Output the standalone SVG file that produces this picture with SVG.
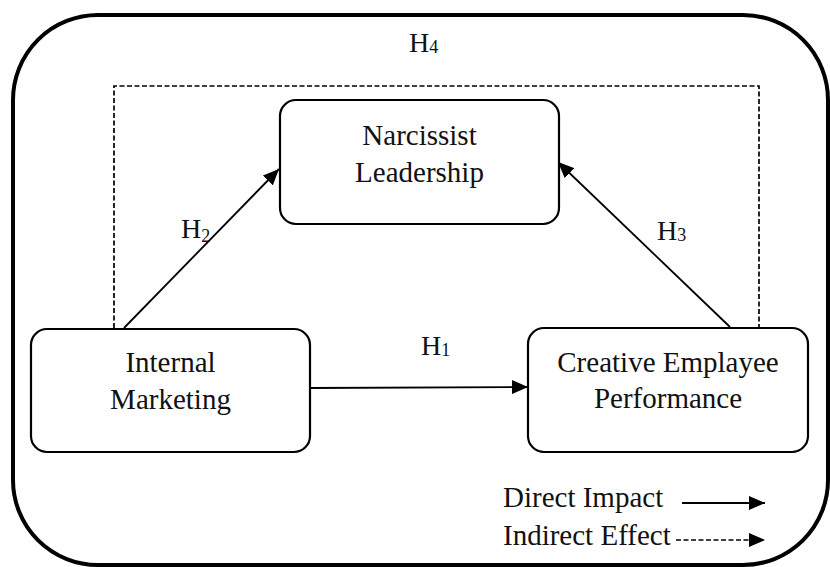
<svg xmlns="http://www.w3.org/2000/svg" width="830" height="567" viewBox="0 0 830 567">
  <style>
    .lbl { font-family: "Liberation Serif", "Times New Roman", serif; font-size: 29px; fill: #111; }
    .hyp { font-family: "Liberation Serif", "Times New Roman", serif; font-size: 28px; fill: #111; }
    .sub { font-size: 18px; }
    .box { fill: #fff; stroke: #000; stroke-width: 2.2; }
    .direct { fill: none; stroke: #000; stroke-width: 1.8; }
    .indirect { fill: none; stroke: #000; stroke-width: 1.7; stroke-dasharray: 5 2.5; }
  </style>
  <defs>
    <marker id="arrow" viewBox="0 0 16 14" refX="16" refY="7" markerWidth="16" markerHeight="14" markerUnits="userSpaceOnUse" orient="auto">
      <path d="M0,0 L16,7 L0,14 Z" fill="#000"/>
    </marker>
  </defs>

  <rect id="frame" x="13" y="15" width="815" height="550" rx="85" ry="85" fill="#fff" stroke="#000" stroke-width="4"/>

  <g id="connectors">
    <!-- H4 indirect path around the mediator -->
    <path class="indirect" d="M114,328 L114,86 L759,86 L759,328"/>
    <!-- H2 -->
    <line class="direct" x1="124" y1="328" x2="279" y2="169" marker-end="url(#arrow)"/>
    <!-- H3 -->
    <line class="direct" x1="730" y1="327" x2="558" y2="162" marker-end="url(#arrow)"/>
    <!-- H1 -->
    <line class="direct" x1="310" y1="388" x2="528" y2="387" stroke-width="2.2" marker-end="url(#arrow)"/>
  </g>

  <g id="narcissist-leadership">
    <rect class="box" x="280" y="100" width="279" height="124" rx="16"/>
    <text class="lbl" x="419.5" y="145" text-anchor="middle">Narcissist</text>
    <text class="lbl" x="419.5" y="182" text-anchor="middle">Leadership</text>
  </g>

  <g id="internal-marketing">
    <rect class="box" x="31" y="329" width="279" height="123" rx="16"/>
    <text class="lbl" x="170.5" y="372" text-anchor="middle">Internal</text>
    <text class="lbl" x="170.5" y="409" text-anchor="middle">Marketing</text>
  </g>

  <g id="creative-performance">
    <rect class="box" x="528" y="328" width="280" height="124" rx="16"/>
    <text class="lbl" x="668" y="372" text-anchor="middle">Creative Emplayee</text>
    <text class="lbl" x="668" y="408" text-anchor="middle">Performance</text>
  </g>

  <g id="hypotheses">
    <text class="hyp" x="409" y="52">H<tspan class="sub" dy="1">4</tspan></text>
    <text class="hyp" x="181" y="238">H<tspan class="sub" dy="4">2</tspan></text>
    <text class="hyp" x="657" y="240">H<tspan class="sub" dy="1">3</tspan></text>
    <text class="hyp" x="421" y="355">H<tspan class="sub" dy="1">1</tspan></text>
  </g>

  <g id="legend">
    <text class="lbl" x="503" y="507">Direct Impact</text>
    <line class="direct" x1="682" y1="503" x2="765" y2="503" marker-end="url(#arrow)"/>
    <text class="lbl" x="503" y="545">Indirect Effect</text>
    <line class="indirect" x1="676" y1="540" x2="765" y2="540" marker-end="url(#arrow)"/>
  </g>
</svg>
